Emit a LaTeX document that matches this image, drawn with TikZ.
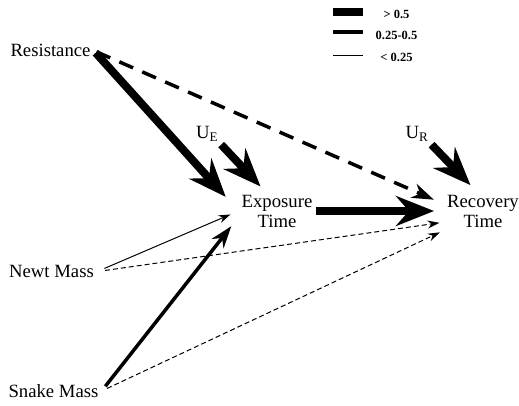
\documentclass[tikz,border=0pt]{standalone}
\usepackage{fontspec}
\setmainfont{Liberation Serif}
\usetikzlibrary{arrows.meta}

\begin{document}
\begin{tikzpicture}[
    x=1pt, y=-1pt,
    var/.style={inner sep=3pt, align=center, font=\fontsize{18.7}{20}\selectfont},
    key/.style={inner sep=1pt, font=\fontsize{12.5}{13}\selectfont\bfseries},
    strong/.style={line width=8pt, -{Stealth[length=38pt, width=30pt, inset=13pt]}},
    moderate/.style={line width=3.5pt, -{Stealth[length=22pt, width=15pt, inset=7pt]}},
    weak/.style={line width=1pt, -{Stealth[length=12pt, width=8pt, inset=4pt]}},
    nonsig/.style={dash pattern=on 15pt off 10pt},
    nonsigthin/.style={dash pattern=on 5pt off 3pt}
]
    \useasboundingbox (0,0) rectangle (519,406);

    % legend
    \node[key] (keyhi) at (396.5,14) {> 0.5};
    \node[key] (keymid) at (396.5,35) {0.25-0.5};
    \node[key] (keylo) at (396.5,57.5) {< 0.25};
    \draw[line width=8pt] ([xshift=-34pt, yshift=2pt]keyhi.center) -- ++(-30,0);
    \draw[line width=3.3pt] ([xshift=-34pt, yshift=3pt]keymid.center) -- ++(-30,0);
    \draw[line width=1pt] ([xshift=-34pt, yshift=1.5pt]keylo.center) -- ++(-30,0);

    % variables
    \node[var] (res) at (50.5,50.6) {Resistance};
    \node[var] (newt) at (51.5,271.6) {Newt Mass};
    \node[var] (snake) at (53.5,391) {Snake Mass};
    \node[var] (expo) at (277,211) {Exposure\\Time};
    \node[var] (recov) at (483,211) {Recovery\\Time};
    \node[var] (ue) at (207,134) {U\textsubscript{E}};
    \node[var] (ur) at (417,134) {U\textsubscript{R}};

    % paths
    \draw[moderate, nonsig, shorten >=11pt, shorten <=3pt] (res.east) -- (recov.170);
    \draw[strong, shorten >=19pt, shorten <=3pt] (res.east) -- (expo.west);
    \draw[strong, shorten >=7pt] (ue.south east) -- (expo.121);
    \draw[strong, shorten >=9pt] (ur.south east) -- (recov.108);
    \draw[strong, shorten >=10pt] (expo.east) -- (recov.west);
    \draw[weak, shorten >=8.7pt, shorten <=8pt] (newt.east) -- (expo.west);
    \draw[weak, nonsigthin, shorten >=4.5pt, shorten <=8pt] (newt.east) -- (recov.196);
    \draw[moderate, shorten >=11.6pt, shorten <=6pt] (snake.east) -- (expo.189);
    \draw[weak, nonsigthin, shorten >=4.5pt, shorten <=6pt] (snake.east) -- (recov.south west);
\end{tikzpicture}
\end{document}
